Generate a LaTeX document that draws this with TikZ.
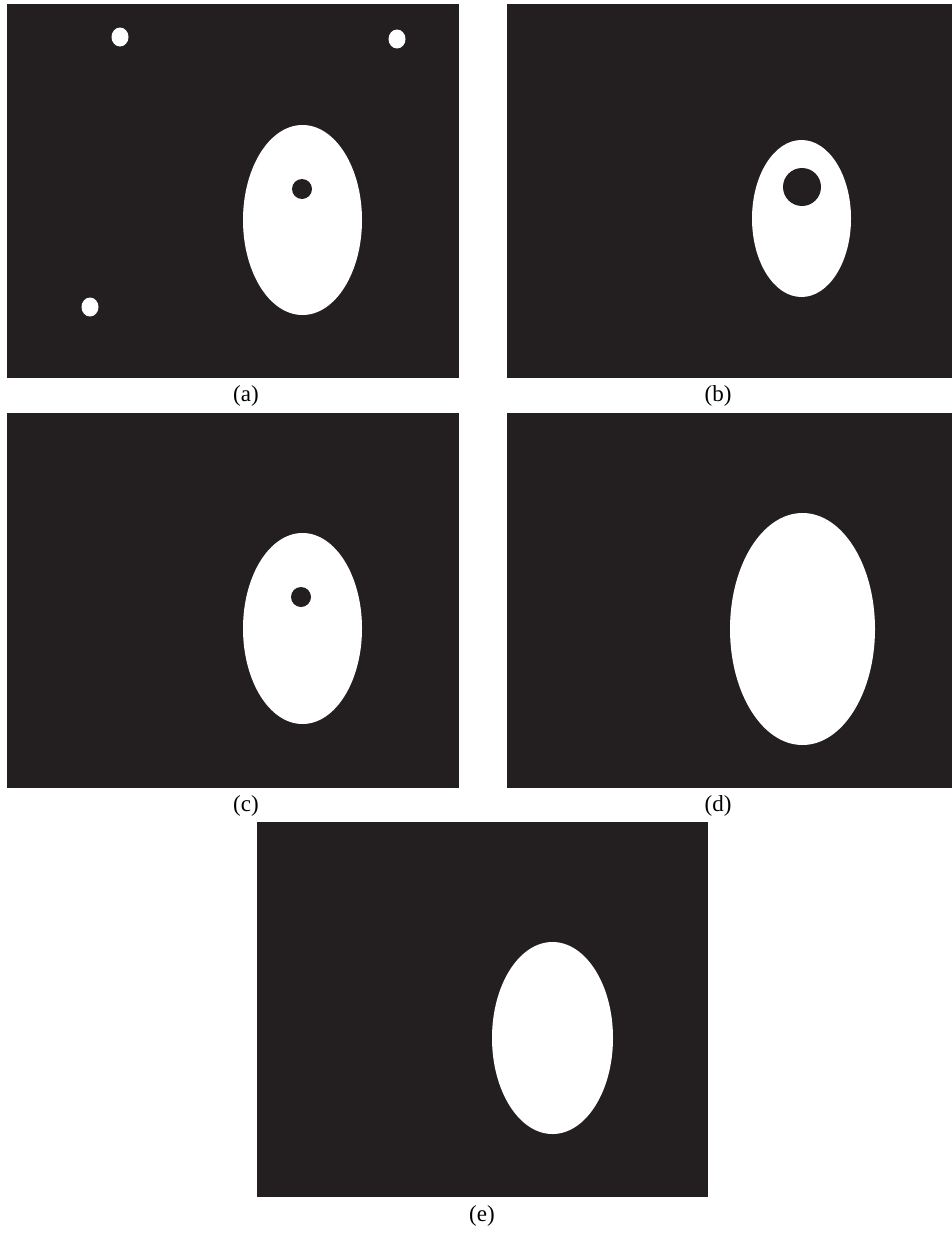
\documentclass[tikz,border=0pt]{standalone}
\usepackage{fontspec}
\setmainfont{Liberation Serif}
\definecolor{panelbg}{RGB}{35,31,32}
\begin{document}
\begin{tikzpicture}[x=1pt,y=-1pt,
  panel/.style={fill=panelbg,draw=none},
  blob/.style={fill=white,draw=none},
  hole/.style={fill=panelbg,draw=none},
  caption/.style={font=\fontsize{23}{26}\selectfont,inner sep=0pt,anchor=center}]
\useasboundingbox (0,0) rectangle (952,1234);
% (a)
\fill[panel] (7,4) rectangle (459,378);
\fill[blob] (302.5,220) ellipse [x radius=59.5,y radius=95];
\fill[hole] (302,189) circle [radius=10];
\fill[blob] (120,37) ellipse [x radius=8.5,y radius=9.5];
\fill[blob] (397,39) ellipse [x radius=8.5,y radius=9.5];
\fill[blob] (90,307) ellipse [x radius=8.5,y radius=9.5];
\node[caption] (la) at (246,396) {(a)};
% (b)
\fill[panel] (507,4) rectangle (952,378);
\fill[blob] (801.5,218.5) ellipse [x radius=49.5,y radius=78.5];
\fill[hole] (802,187) circle [radius=19];
\node[caption] (lb) at (718,396) {(b)};
% (c)
\fill[panel] (7,413) rectangle (459,788);
\fill[blob] (302.5,628.5) ellipse [x radius=59.5,y radius=95.5];
\fill[hole] (301,597) circle [radius=10];
\node[caption] (lc) at (246,806) {(c)};
% (d)
\fill[panel] (507,413) rectangle (952,788);
\fill[blob] (802.5,629) ellipse [x radius=72.5,y radius=116];
\node[caption] (ld) at (718,806) {(d)};
% (e)
\fill[panel] (257,822) rectangle (708,1197);
\fill[blob] (552.5,1038) ellipse [x radius=60.5,y radius=96];
\node[caption] (le) at (482,1216) {(e)};
\end{tikzpicture}
\end{document}
